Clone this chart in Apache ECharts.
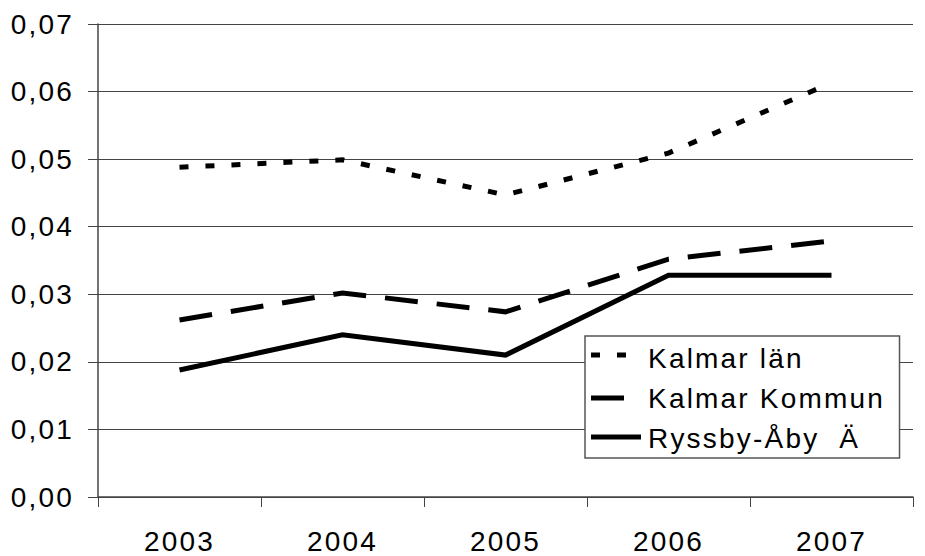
<!DOCTYPE html>
<html><head><meta charset="utf-8">
<script src="https://cdn.jsdelivr.net/npm/echarts@6/dist/echarts.min.js"></script>
<style>html,body{margin:0;padding:0;background:#fff}#c{width:925px;height:556px}#c text{letter-spacing:2.2px}</style>
</head><body><div id="c"></div>
<script>
const categories = ['2003','2004','2005','2006','2007'];
const kalmarLan = [0.0488, 0.0499, 0.0447, 0.0509, 0.0613];
const kalmarKommun = [0.0262, 0.0302, 0.0274, 0.0352, 0.0379];
const ryssby = [0.0188, 0.0240, 0.0210, 0.0328, 0.0328];
const seriesNames = ['Kalmar län', 'Kalmar Kommun', 'Ryssby-Åby  Ä'];
const dashLan = [9,17];
const dashKommun = [33,19];

const font = 'Liberation Sans, Arial, sans-serif';
const chart = echarts.init(document.getElementById('c'), null, {renderer:'svg'});
function mk(name, data, type){
  return {name, type:'line', data, symbol:'none', showSymbol:false, animation:false,
    lineStyle:{color:'#000', width:5, type:type, cap:'butt', join:'miter'},
    itemStyle:{color:'#000'}};
}
function key(x1,x2,y,type){
  return {type:'line', z:100, shape:{x1,y1:y,x2,y2:y},
    style:{stroke:'#000', lineWidth:5, lineDash:type, lineCap:'butt'}};
}
chart.setOption({
  animation:false,
  backgroundColor:'#fff',
  grid:{left:98, right:12, top:24, bottom:59, containLabel:false},
  xAxis:{type:'category', data:categories, boundaryGap:true,
    axisLine:{lineStyle:{color:'#444', width:1.5}},
    axisTick:{show:true, length:10, inside:false, lineStyle:{color:'#444'}},
    axisLabel:{color:'#000', fontSize:28, fontFamily:font, margin:30},
    splitLine:{show:false}},
  yAxis:{type:'value', min:0, max:0.07, interval:0.01,
    axisLine:{show:true, lineStyle:{color:'#444', width:1.5}},
    axisTick:{show:true, length:10, lineStyle:{color:'#444'}},
    axisLabel:{color:'#000', fontSize:28, fontFamily:font, margin:24,
      formatter:v=>v.toFixed(2).replace('.',',')},
    splitLine:{show:true, lineStyle:{color:'#444', width:1}}},
  legend:{show:true, orient:'vertical', left:585, top:336,
    backgroundColor:'#fff', borderColor:'#555', borderWidth:1.5,
    padding:[7,43,5,6], itemGap:10, itemWidth:52, itemHeight:5,
    textStyle:{color:'#000', fontSize:28, lineHeight:30, fontFamily:font},
    data:seriesNames.map(n=>({name:n, icon:'none'}))},
  graphic:[
    key(591,630,355,dashLan),
    key(591,624,398,null),
    key(591,641,437,null)
  ],
  series:[
    mk(seriesNames[0], kalmarLan, dashLan),
    mk(seriesNames[1], kalmarKommun, dashKommun),
    mk(seriesNames[2], ryssby, 'solid')
  ]
});
</script></body></html>
